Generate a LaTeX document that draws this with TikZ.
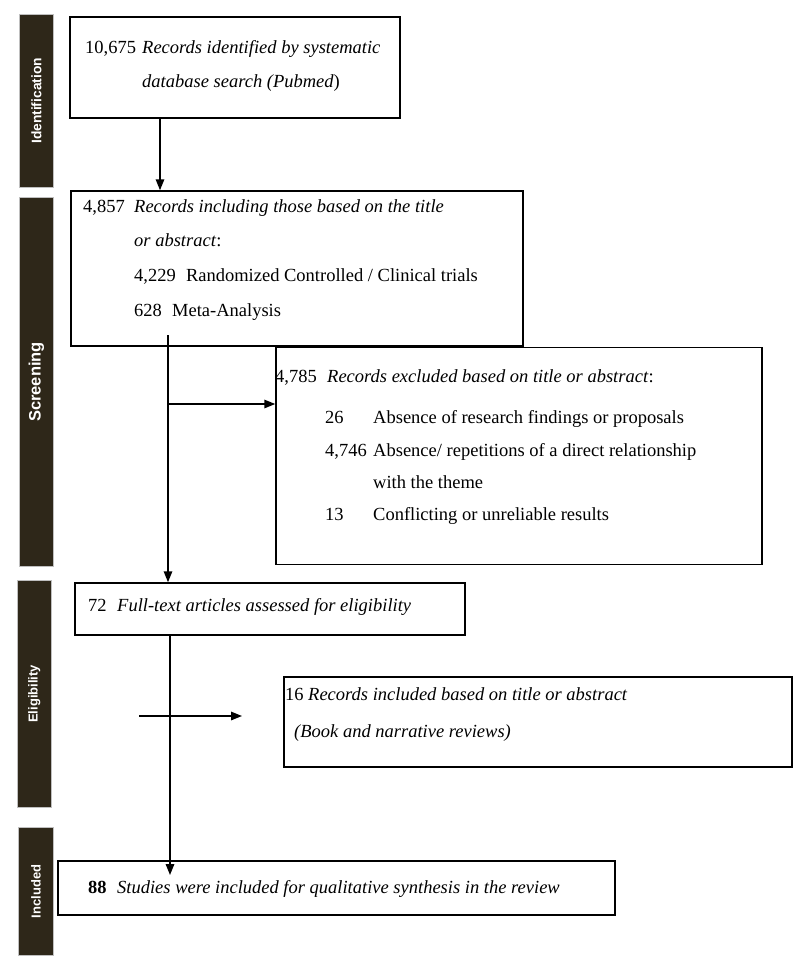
\documentclass[tikz,border=0pt]{standalone}
\usepackage{fontspec}
\setmainfont{Liberation Serif}
\setsansfont{Liberation Sans}
\usetikzlibrary{arrows.meta}
\definecolor{barcol}{HTML}{2E2719}
\tikzset{
  box/.style={draw=black, line width=1.5pt, rectangle, inner sep=0pt},
  txt/.style={anchor=base west, inner sep=0pt, font=\fontsize{18.5}{22}\selectfont},
  bar/.style={fill=barcol, draw=black!25, line width=0.8pt, rectangle, inner sep=0pt, anchor=north west},
  lab/.style={text=white, font=\sffamily\bfseries\fontsize{13}{15}\selectfont, rotate=90, inner sep=0pt},
  arr/.style={line width=1.5pt, -{Triangle[length=11pt,width=8.5pt]}},
}
\begin{document}
\begin{tikzpicture}[x=1pt,y=-1pt]
\useasboundingbox (0,0) rectangle (800,966);

% phase bars
\node[bar, minimum width=34pt, minimum height=173pt] (barid) at (19,14) {};
\node[bar, minimum width=34pt, minimum height=369pt] (barsc) at (19,197) {};
\node[bar, minimum width=34pt, minimum height=227pt] (barel) at (17,580) {};
\node[bar, minimum width=35pt, minimum height=128pt] (barin) at (18,827) {};
\node[lab, font=\sffamily\bfseries\fontsize{13.8}{15}\selectfont] (lid) at (barid.center) {Identification};
\node[lab, font=\sffamily\bfseries\fontsize{16.5}{18}\selectfont] (lsc) at (barsc.center) {Screening};
\node[lab] (lel) at (barel.center) {Eligibility};
\node[lab] (lin) at (barin.center) {Included};

% boxes
\node[box, minimum width=330pt, minimum height=101pt] (b1) at (235,67.5) {};
\node[box, minimum width=452pt, minimum height=155pt] (b2) at (297,268.5) {};
\node[box, minimum width=486pt, minimum height=217pt] (ex) at (519,456) {};
\node[box, minimum width=390pt, minimum height=52pt] (b3) at (270,609) {};
\node[box, minimum width=508pt, minimum height=90pt] (b5) at (538,722) {};
\node[box, minimum width=557pt, minimum height=54pt] (b4) at (336.5,888) {};

% box 1 text
\node[txt] (t1n) at (85,53) {10,675};
\node[txt] (t1a) at (142,53) {\itshape Records identified by systematic};
\node[txt] (t1b) at (142,87) {\textit{database search (Pubmed})};

% box 2 text
\node[txt] (t2n) at (83,212) {4,857};
\node[txt] (t2a) at (134,212) {\itshape Records including those based on the title};
\node[txt] (t2b) at (134,246) {\textit{or abstract}:};
\node[txt] (t2c) at (134,281) {4,229\hspace{0.55em}Randomized Controlled / Clinical trials};
\node[txt] (t2d) at (134,316) {628\hspace{0.55em}Meta-Analysis};

% exclusion box text
\node[txt] (ten) at (275,382) {4,785};
\node[txt] (tea) at (327,382) {\textit{Records excluded based on title or abstract}:};
\node[txt] (te1n) at (325,423) {26};
\node[txt] (te1) at (373,423) {Absence of research findings or proposals};
\node[txt] (te2n) at (325,456) {4,746};
\node[txt] (te2) at (373,456) {Absence/ repetitions of a direct relationship};
\node[txt] (te2b) at (373,488) {with the theme};
\node[txt] (te3n) at (325,520) {13};
\node[txt] (te3) at (373,520) {Conflicting or unreliable results};

% box 3 text
\node[txt] (t3n) at (88,611) {72};
\node[txt] (t3a) at (117,611) {\itshape Full-text articles assessed for eligibility};

% box 5 text
\node[txt] (t5n) at (285,700) {16};
\node[txt] (t5a) at (308,700) {\itshape Records included based on title or abstract};
\node[txt] (t5b) at (294,737) {\itshape (Book and narrative reviews)};

% box 4 text
\node[txt] (t4n) at (88,893) {\textbf{88}};
\node[txt] (t4a) at (117,893) {\itshape Studies were included for qualitative synthesis in the review};

% connectors
\coordinate (a1) at (160,0);
\draw[arr] (b1.south -| a1) -- (b2.north -| a1);
\coordinate (s1) at (168,335);
\draw[arr] (s1) -- (b3.north -| s1);
\coordinate (h1) at (169,404);
\draw[arr] (h1) -- (h1 -| ex.west);
\coordinate (s2) at (170,0);
\coordinate (t4) at (170,875);
\draw[arr] (b3.south -| s2) -- (t4);
\coordinate (h2s) at (139,716);
\coordinate (h2e) at (242,716);
\draw[arr] (h2s) -- (h2e);
\end{tikzpicture}
\end{document}
